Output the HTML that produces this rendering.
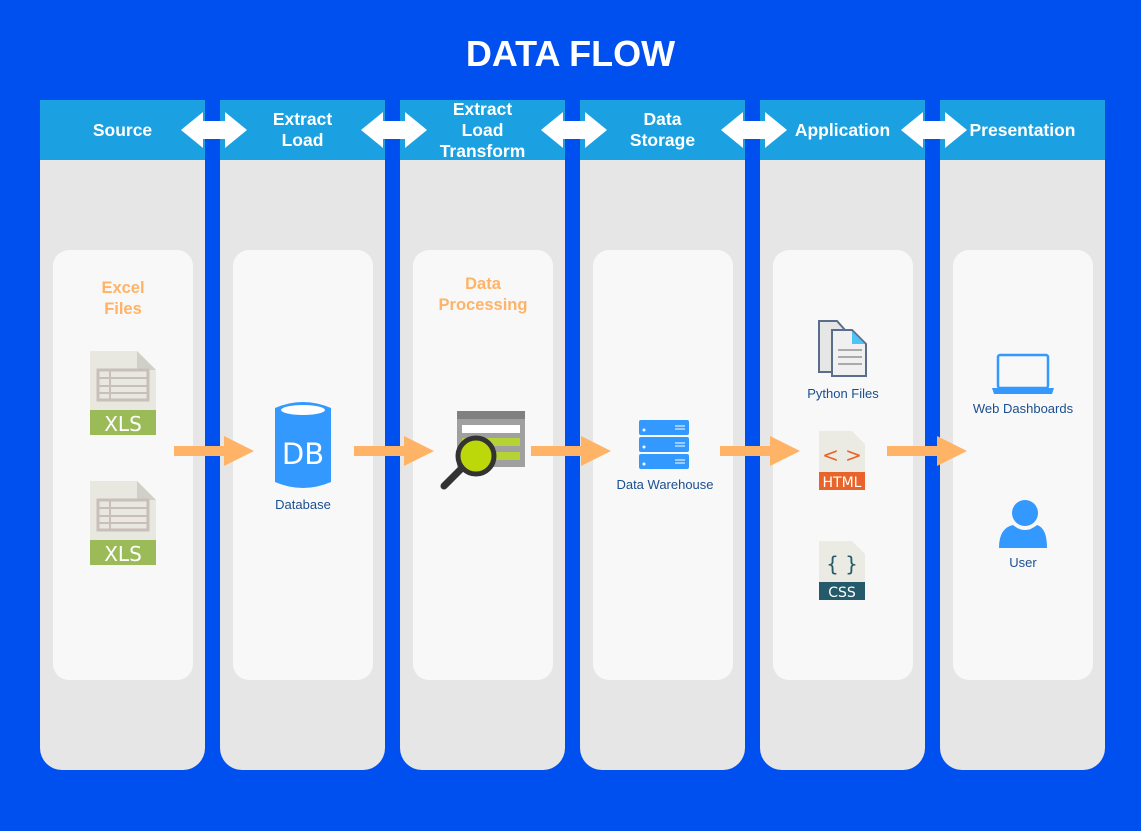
<!DOCTYPE html>
<html><head><style>
body{margin:0;width:1141px;height:831px;background:#0050EF;position:relative;overflow:hidden;font-family:"Liberation Sans",sans-serif}
.col{position:absolute;top:100px;width:165px;height:670px;background:#E6E6E6;border-radius:0 0 22px 22px}
.hd{position:absolute;top:100px;width:165px;height:60px;background:#1BA1E2;color:#fff;font-weight:bold;font-size:17.5px;display:flex;align-items:center;justify-content:center;text-align:center;line-height:21px}
.card{position:absolute;top:250px;width:140px;height:430px;background:#F8F8F8;border-radius:16px}
.t{position:absolute;color:#1a4f8f;font-size:13px;text-align:center;width:140px}
.o{position:absolute;color:#FFB366;font-weight:bold;font-size:16.5px;text-align:center;width:140px;line-height:21px}
</style></head><body>
<div style="position:absolute;top:33px;width:1141px;text-align:center;color:#fff;font-weight:bold;font-size:36px">DATA FLOW</div>
<div class="col" style="left:40px"></div><div class="col" style="left:220px"></div><div class="col" style="left:400px"></div><div class="col" style="left:580px"></div><div class="col" style="left:760px"></div><div class="col" style="left:940px"></div>
<div class="hd" style="left:40px">Source</div>
<div class="hd" style="left:220px">Extract<br>Load</div>
<div class="hd" style="left:400px">Extract<br>Load<br>Transform</div>
<div class="hd" style="left:580px">Data<br>Storage</div>
<div class="hd" style="left:760px">Application</div>
<div class="hd" style="left:940px">Presentation</div>
<div class="card" style="left:53px"></div><div class="card" style="left:233px"></div><div class="card" style="left:413px"></div><div class="card" style="left:593px"></div><div class="card" style="left:773px"></div><div class="card" style="left:953px"></div>
<div class="o" style="left:53px;top:278px">Excel<br>Files</div>
<div class="o" style="left:413px;top:274px">Data<br>Processing</div>
<div class="t" style="left:233px;top:497px">Database</div>
<div class="t" style="left:595px;top:477px">Data Warehouse</div>
<div class="t" style="left:773px;top:386px">Python Files</div>
<div class="t" style="left:953px;top:401px">Web Dashboards</div>
<div class="t" style="left:953px;top:555px">User</div>
<svg width="1141" height="831" style="position:absolute;left:0;top:0">
<g fill="#0050EF"><rect x="205" y="100" width="15" height="670"/><rect x="385" y="100" width="15" height="670"/><rect x="565" y="100" width="15" height="670"/><rect x="745" y="100" width="15" height="670"/><rect x="925" y="100" width="15" height="670"/></g>
<g fill="#fff">
<path id="da" d="M181,130 L203,112 L203,121 L225,121 L225,112 L247,130 L225,148 L225,139 L203,139 L203,148 Z"/>
<use href="#da" x="180"/><use href="#da" x="360"/><use href="#da" x="540"/><use href="#da" x="720"/>
</g>
<g fill="#FFB366">
<path id="oa" d="M174,446 L224,446 L224,436 L254,451 L224,466 L224,456 L174,456 Z"/>
<use href="#oa" x="180"/><use href="#oa" x="357"/><use href="#oa" x="546"/><use href="#oa" x="713"/>
</g>
<g id="xls">
<path d="M90,351 L137,351 L156,370 L156,410 L90,410 Z" fill="#E8E8E0"/><path d="M137,351 L156,370 L137,370Z" fill="#D0D0C8"/>
<rect x="98" y="370" width="50" height="30" fill="none" stroke="#C8BFB8" stroke-width="3"/>
<path d="M98,378H148M98,386H148M98,393H148M110,370V400" stroke="#C8BFB8" stroke-width="2"/>
<rect x="90" y="410" width="66" height="25" fill="#9BBB59"/>
<text x="123" y="431" fill="#fff" font-size="20" text-anchor="middle" font-family="DejaVu Sans">XLS</text>
</g>
<use href="#xls" y="130"/>
<path d="M275,408 Q303,396 331,408 L331,482 Q303,494 275,482 Z" fill="#3399FF"/>
<ellipse cx="303" cy="410" rx="22" ry="5" fill="#fff"/>
<text x="303" y="464" fill="#fff" font-size="29" text-anchor="middle" font-family="DejaVu Sans">DB</text>
<rect x="457" y="411" width="68" height="56" fill="#A0A0A0"/><rect x="457" y="411" width="68" height="8" fill="#808080"/>
<rect x="462" y="425" width="58" height="8" fill="#fff"/><rect x="462" y="438" width="58" height="8" fill="#B5D334"/><rect x="462" y="452" width="58" height="8" fill="#B5D334"/>
<line x1="444" y1="486" x2="462" y2="468" stroke="#333" stroke-width="7" stroke-linecap="round"/>
<circle cx="476" cy="456" r="18" fill="#BCD80A" stroke="#333" stroke-width="5"/>
<g fill="#3399FF"><rect x="639" y="420" width="50" height="15" rx="2"/><rect x="639" y="437" width="50" height="15" rx="2"/><rect x="639" y="454" width="50" height="15" rx="2"/></g>
<g stroke="#fff" stroke-width="1"><path d="M675,426h10M675,429h10M675,443h10M675,446h10M675,460h10M675,463h10"/></g>
<g fill="#fff"><circle cx="644" cy="430" r="1.5"/><circle cx="644" cy="447" r="1.5"/><circle cx="644" cy="464" r="1.5"/></g>
<path d="M819,321 L837,321 L845,330 L845,372 L819,372 Z" fill="#E6E6E6" stroke="#5A6E8C" stroke-width="2"/>
<path d="M832,330 L852,330 L866,344 L866,376 L832,376 Z" fill="#F0F0F0" stroke="#5A6E8C" stroke-width="2"/>
<path d="M852,331 L865,344 L852,344Z" fill="#4FC3F7"/>
<path d="M838,350h24M838,357h24M838,364h24" stroke="#aaa" stroke-width="2"/>
<path d="M819,431 L852,431 L865,444 L865,490 L819,490 Z" fill="#EBEBE3"/>
<rect x="819" y="472" width="46" height="18" fill="#E8642A"/>
<text x="842" y="487" fill="#fff" font-size="14" text-anchor="middle" font-family="DejaVu Sans">HTML</text>
<text x="842" y="462" fill="#E8642A" font-size="20" text-anchor="middle" font-family="DejaVu Sans">&lt; &gt;</text>
<path d="M819,541 L852,541 L865,554 L865,600 L819,600 Z" fill="#EBEBE3"/>
<rect x="819" y="582" width="46" height="18" fill="#245A6A"/>
<text x="842" y="597" fill="#fff" font-size="14" text-anchor="middle" font-family="DejaVu Sans">CSS</text>
<text x="842" y="571" fill="#245A6A" font-size="20" text-anchor="middle" font-family="DejaVu Sans">{ }</text>
<rect x="998" y="355" width="50" height="33" rx="2" fill="none" stroke="#3399FF" stroke-width="2.5"/>
<path d="M992,388 H1054 L1052,394 H994 Z" fill="#3399FF"/>
<circle cx="1025" cy="513" r="13" fill="#3399FF"/>
<path d="M999,548 Q999,528 1013,525 Q1025,535 1037,525 Q1047,528 1047,548 Z" fill="#3399FF"/>
</svg>
</body></html>
